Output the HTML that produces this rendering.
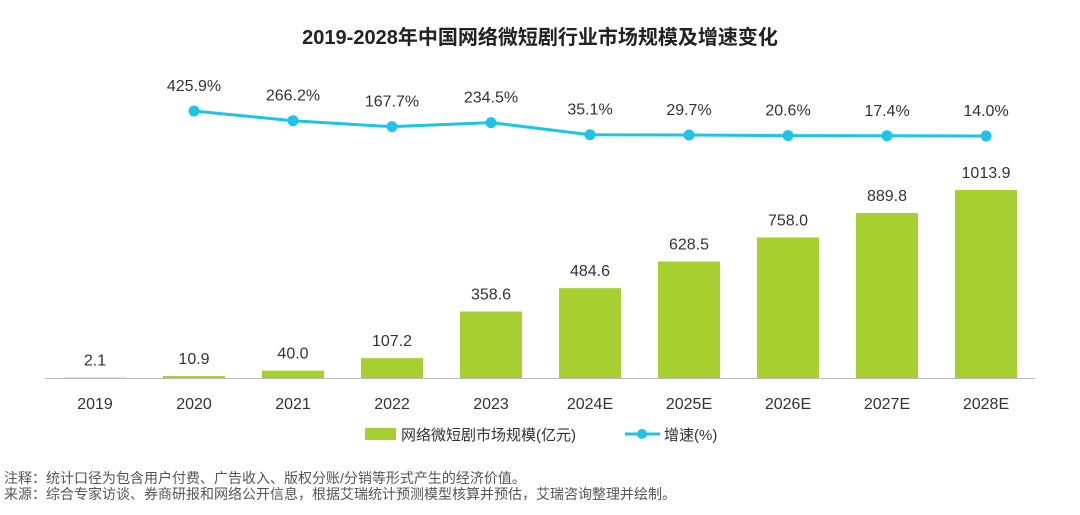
<!DOCTYPE html>
<html><head><meta charset="utf-8">
<style>
body{margin:0;width:1080px;height:510px;background:#fff;overflow:hidden;font-family:"Liberation Sans","Noto Sans CJK SC",sans-serif;}
svg text{font-family:"Liberation Sans","Noto Sans CJK SC",sans-serif;}
</style></head><body>
<svg id="chart" width="1080" height="510">
<text x="540" y="44" text-anchor="middle" font-size="20" font-weight="bold" fill="#222">2019-2028年中国网络微短剧行业市场规模及增速变化</text>
<line x1="45" y1="378.5" x2="1035" y2="378.5" stroke="#bbb" stroke-width="1"/>
<g id="bars"></g><g id="line"></g><g id="labels"></g>
<g>
<rect x="365" y="428" width="31" height="12" fill="#a7cf2f"/>
<text x="401" y="440" font-size="15" fill="#333">网络微短剧市场规模(亿元)</text>
<line x1="625" y1="434" x2="660" y2="434" stroke="#1ec4e8" stroke-width="3"/>
<circle cx="642" cy="434" r="5" fill="#1ec4e8"/>
<text x="664" y="440" font-size="15" fill="#333">增速(%)</text>
</g>
<text x="4" y="483" font-size="14" fill="#555">注释：统计口径为包含用户付费、广告收入、版权分账/分销等形式产生的经济价值。</text>
<text x="4" y="499" font-size="14" fill="#555">来源：综合专家访谈、券商研报和网络公开信息，根据艾瑞统计预测模型核算并预估，艾瑞咨询整理并绘制。</text>
</svg>
<script>
const categories=["2019","2020","2021","2022","2023","2024E","2025E","2026E","2027E","2028E"];
const marketSize=[2.1,10.9,40.0,107.2,358.6,484.6,628.5,758.0,889.8,1013.9];
const growth=[null,425.9,266.2,167.7,234.5,35.1,29.7,20.6,17.4,14.0];
const NS="http://www.w3.org/2000/svg";
const x0=95,step=99,barW=62,base=378,barScale=188/1013.9;
const xs=i=>x0+i*step;
const yBar=v=>base-v*barScale;
const yLine=v=>136-(v-14)*(25/411.9);
function mk(t,a,p){const e=document.createElementNS(NS,t);for(const k in a)e.setAttribute(k,a[k]);p.appendChild(e);return e;}
const bars=document.getElementById('bars'),line=document.getElementById('line'),labels=document.getElementById('labels');
categories.forEach((c,i)=>{
  const v=marketSize[i];
  const r=mk('rect',{x:xs(i)-barW/2,y:yBar(v),width:barW,height:base-yBar(v),fill:'#a7cf2f'},bars);
  
  
  const t=mk('text',{x:xs(i),y:yBar(v)-12,'text-anchor':'middle','font-size':16,fill:'#333'},labels);
  t.textContent=v.toFixed(1);
  
  
  const xt=mk('text',{x:xs(i),y:409,'text-anchor':'middle','font-size':16,fill:'#333'},labels);
  xt.textContent=c;
  
  
});
const pts=[];
growth.forEach((g,i)=>{if(g!=null)pts.push([xs(i),yLine(g),g,categories[i]]);});
const pl=mk('polyline',{points:pts.map(p=>p[0]+','+p[1]).join(' '),fill:'none',stroke:'#1ec4e8','stroke-width':3},line);


pts.forEach(p=>{
  const c=mk('circle',{cx:p[0],cy:p[1],r:5.5,fill:'#1ec4e8'},line);
  
  
  const t=mk('text',{x:p[0],y:p[1]-20,'text-anchor':'middle','font-size':16,fill:'#333'},labels);
  t.textContent=p[2].toFixed(1)+'%';
  
  
});
</script>
</body></html>
